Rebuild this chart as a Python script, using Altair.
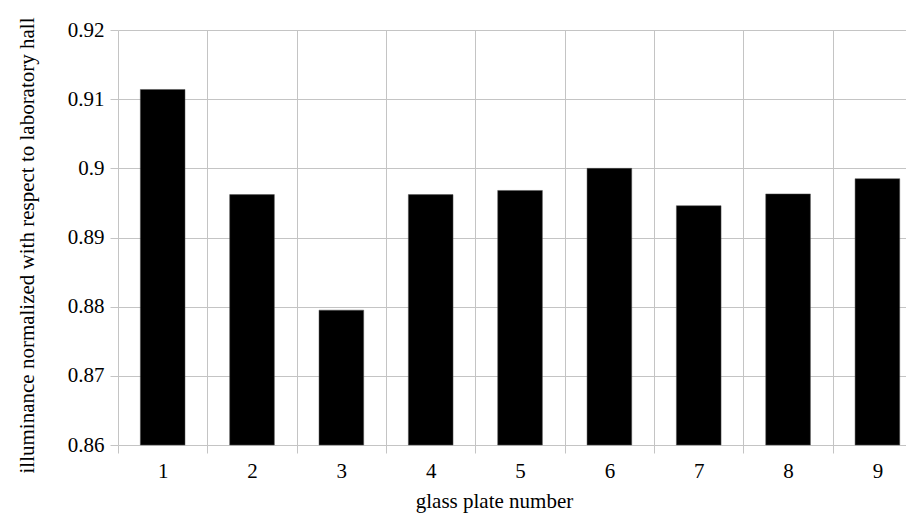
import altair as alt
import pandas as pd

plates = [1, 2, 3, 4, 5, 6, 7, 8, 9]
illuminance = [0.9114, 0.8962, 0.8795, 0.8962, 0.8968, 0.9000, 0.8946, 0.8963, 0.8985]
boundaries = [0.5, 1.5, 2.5, 3.5, 4.5, 5.5, 6.5, 7.5, 8.5, 9.5]
y_ticks = [0.86, 0.87, 0.88, 0.89, 0.90, 0.91, 0.92]

df = pd.DataFrame({"plate": plates, "value": illuminance})

FONT = "Liberation Serif"
GRID = "#c4c4c4"
FS = 21

x_scale = alt.Scale(domain=[0.5, 9.32], nice=False, zero=False, padding=0)
y_scale = alt.Scale(domain=[0.86, 0.92], nice=False, zero=False, padding=0)

y_axis = alt.Axis(
    values=y_ticks, format=".2~f", grid=True, gridColor=GRID, domain=False,
    tickColor=GRID, tickSize=8, labelPadding=6,
    title="illuminance normalized with respect to laboratory hall",
    titleX=-85, titleY=215, titleAngle=270, titleAlign="center",
    titleBaseline="alphabetic",
)

bars = alt.Chart(df).transform_calculate(
    lo="datum.plate - 0.25", hi="datum.plate + 0.25"
).mark_rect(color="#000", stroke="#555", strokeWidth=0.5).encode(
    x=alt.X("lo:Q", scale=x_scale, axis=alt.Axis(
        values=boundaries, labels=False, grid=True, gridColor=GRID, domain=False,
        tickColor=GRID, tickSize=8, title=None, orient="bottom")),
    x2="hi:Q",
    y=alt.Y("value:Q", scale=y_scale, axis=y_axis),
    y2=alt.datum(0.86),
)

labels = alt.Chart(df).mark_point(opacity=0).encode(
    x=alt.X("plate:Q", scale=x_scale, axis=alt.Axis(
        values=plates, format="d", grid=False, ticks=False, domain=False,
        labelPadding=15, title="glass plate number", titleX=376, titleY=62,
        titleAlign="center", titleBaseline="alphabetic", orient="bottom")),
)

chart = alt.layer(bars, labels).resolve_axis(x="independent").properties(
    width=788, height=415,
    autosize=alt.AutoSizeParams(type="none"),
    padding={"left": 110, "top": 22, "right": 0, "bottom": 70},
).configure_view(stroke=None).configure_axis(
    labelFont=FONT, labelFontSize=FS, labelColor="#000",
    titleFont=FONT, titleFontSize=FS, titleFontWeight="normal", titleColor="#000",
)

chart.save("out.html", embed_options={"renderer": "svg", "actions": False})
